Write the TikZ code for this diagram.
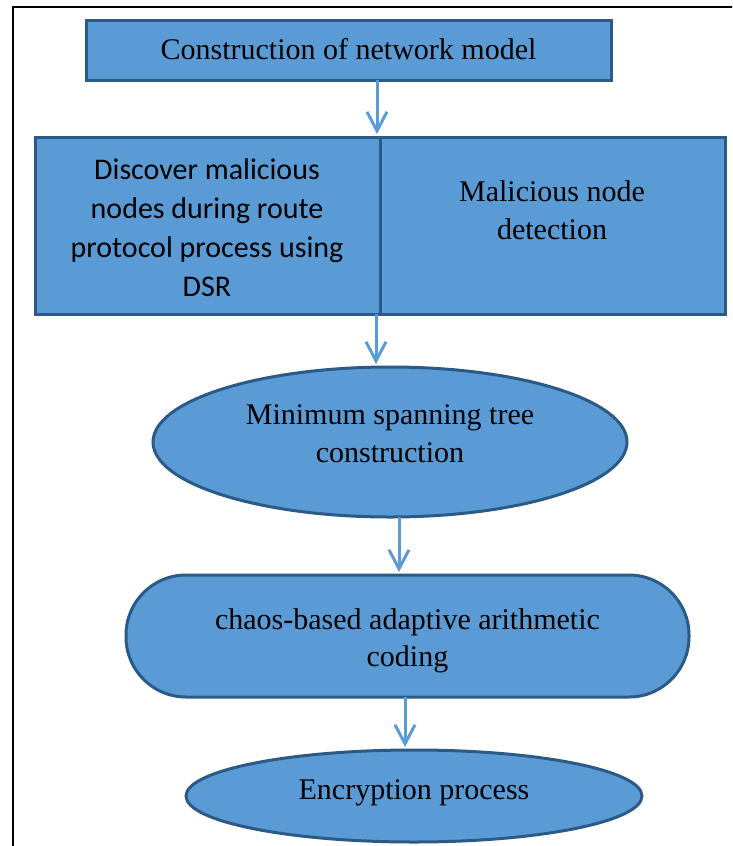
\documentclass[tikz,border=0pt]{standalone}
\usepackage{fontspec}
\setmainfont{Liberation Serif}
\newfontfamily\bodysans{Carlito}
\usetikzlibrary{shapes.geometric,arrows.meta}
\definecolor{fillblue}{HTML}{5B9BD5}
\definecolor{edgeblue}{HTML}{2B5A86}
\definecolor{arrowblue}{HTML}{5B9BD5}
\tikzset{
  stepshape/.style={fill=fillblue, draw=edgeblue, line width=3pt, inner sep=0pt, outer sep=0pt, align=center},
  steptext/.style={font=\fontsize{30}{38}\selectfont, align=center, inner sep=0pt},
  flowarrow/.style={draw=arrowblue, line width=3pt, -{Straight Barb[length=19pt,width=20pt,line width=3pt]}, shorten >=3pt},
}
\begin{document}
\begin{tikzpicture}[x=1pt,y=-1pt]
\useasboundingbox (0,0) rectangle (732,846);
\clip (0,0) rectangle (732,846);
\fill[white] (0,0) rectangle (732,846);
% page frame
\draw[line width=1.4pt] (13,900) -- (13,7) -- (760,7);

\node[stepshape, rectangle, minimum width=525pt, minimum height=60pt] (model) at (348.5,50) {};
\node[steptext] (modeltext) at (348.5,49) {Construction of network model};

\node[stepshape, rectangle, minimum width=345pt, minimum height=177pt] (dsr) at (207.5,225.5) {};
\node[steptext, font=\bodysans\fontsize{30}{39}\selectfont] (dsrtext) at (207,228) {Discover malicious\\nodes during route\\protocol process using\\DSR};
\node[stepshape, rectangle, minimum width=345pt, minimum height=177pt, anchor=west] (detect) at (dsr.east) {};
\node[steptext] (detecttext) at (552,210) {Malicious node\\detection};

\node[stepshape, ellipse, minimum width=474pt, minimum height=150pt] (mst) at (390,442) {};
\node[steptext] (msttext) at (390,434) {Minimum spanning tree\\construction};

\node[stepshape, rectangle, rounded corners=60pt, minimum width=563pt, minimum height=122pt] (chaos) at (407.5,636) {};
\node[steptext, font=\fontsize{30}{37}\selectfont] (chaostext) at (407.5,641) {chaos-based adaptive arithmetic\\coding};

\node[stepshape, ellipse, minimum width=456pt, minimum height=92pt] (enc) at (414,796) {};
\node[steptext] (enctext) at (414,793) {Encryption process};

% connectors
\coordinate (c1) at (377,0);
\coordinate (c2) at (376,0);
\coordinate (c3) at (399,0);
\coordinate (c4) at (405,0);
\draw[flowarrow] (model.south -| c1) -- (dsr.north -| c1);
\draw[flowarrow] (dsr.south -| c2) -- (mst.north -| c2);
\draw[flowarrow] (mst.south -| c3) -- (chaos.north -| c3);
\draw[flowarrow] (chaos.south -| c4) -- (enc.north -| c4);
\end{tikzpicture}
\end{document}
